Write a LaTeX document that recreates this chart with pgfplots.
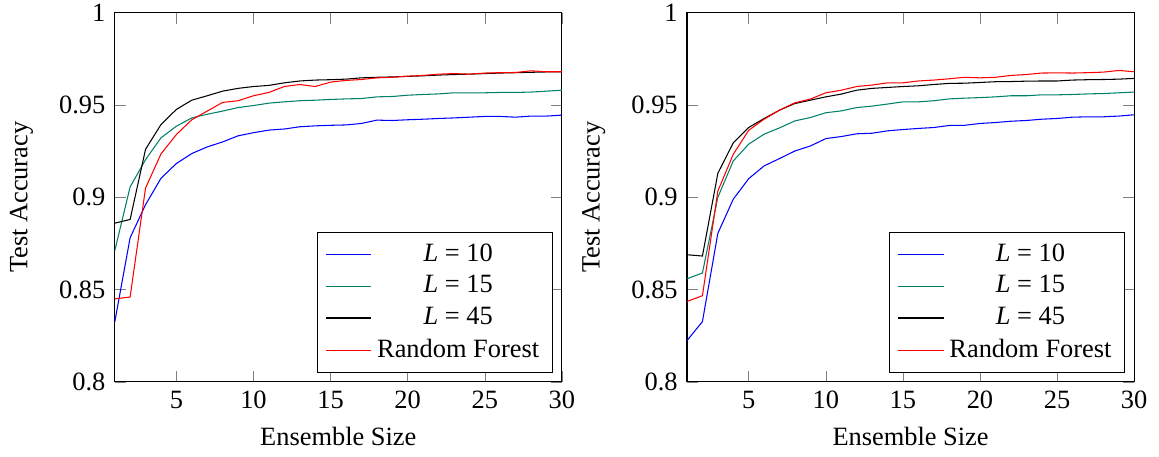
\documentclass[border=0pt]{standalone}
\usepackage{pgfplots}
\pgfplotsset{compat=1.18}
\usepackage{fontspec}
\setmainfont{Liberation Serif}
\definecolor{lgreen}{RGB}{0,128,105}
\definecolor{lblue}{RGB}{0,0,255}
\definecolor{lred}{RGB}{255,0,0}
\pgfplotsset{
  myaxis/.style={
    scale only axis,
    width=169.4pt, height=139.9pt,
    xmin=1, xmax=30, ymin=0.8, ymax=1,
    xtick={5,10,15,20,25,30},
    ytick={0.8,0.85,0.9,0.95,1},
    yticklabels={0.8,0.85,0.9,0.95,1},
    /pgf/number format/assume math mode=true,
    xlabel={Ensemble Size}, ylabel={Test Accuracy},
    ylabel shift=3pt,
    legend style={at={(0.98,0.025)}, anchor=south east, font=\normalsize},
    legend cell align=center,
    legend image code/.code={\draw[##1, line width=0.5pt] (0pt,0pt) -- (17.07pt,0pt);},
  }
}
\newcommand{\Lab}[1]{\textit{L} = #1}
\begin{document}
\begin{tikzpicture}
\begin{axis}[myaxis]
\addplot[color=lblue] coordinates {(1,0.8323)(2,0.8781)(3,0.8960)(4,0.9103)(5,0.9183)(6,0.9237)(7,0.9273)(8,0.9300)(9,0.9333)(10,0.9350)(11,0.9364)(12,0.9370)(13,0.9382)(14,0.9387)(15,0.9390)(16,0.9392)(17,0.9400)(18,0.9418)(19,0.9416)(20,0.9420)(21,0.9423)(22,0.9427)(23,0.9430)(24,0.9434)(25,0.9438)(26,0.9438)(27,0.9434)(28,0.9440)(29,0.9440)(30,0.9445)};
\addlegendentry{\Lab{10}}
\addplot[color=lgreen] coordinates {(1,0.8709)(2,0.9056)(3,0.9204)(4,0.9322)(5,0.9385)(6,0.9430)(7,0.9450)(8,0.9467)(9,0.9486)(10,0.9497)(11,0.9510)(12,0.9517)(13,0.9523)(14,0.9526)(15,0.9530)(16,0.9533)(17,0.9535)(18,0.9544)(19,0.9546)(20,0.9553)(21,0.9557)(22,0.9560)(23,0.9566)(24,0.9566)(25,0.9566)(26,0.9568)(27,0.9568)(28,0.9570)(29,0.9575)(30,0.9580)};
\addlegendentry{\Lab{15}}
\addplot[color=black] coordinates {(1,0.8860)(2,0.8880)(3,0.9260)(4,0.9394)(5,0.9476)(6,0.9526)(7,0.9550)(8,0.9575)(9,0.9590)(10,0.9600)(11,0.9606)(12,0.9620)(13,0.9630)(14,0.9635)(15,0.9637)(16,0.9640)(17,0.9647)(18,0.9650)(19,0.9652)(20,0.9655)(21,0.9658)(22,0.9662)(23,0.9665)(24,0.9667)(25,0.9670)(26,0.9673)(27,0.9675)(28,0.9677)(29,0.9679)(30,0.9680)};
\addlegendentry{\Lab{45}}
\addplot[color=lred] coordinates {(1,0.8450)(2,0.8460)(3,0.9050)(4,0.9235)(5,0.9340)(6,0.9420)(7,0.9467)(8,0.9514)(9,0.9523)(10,0.9550)(11,0.9568)(12,0.9600)(13,0.9611)(14,0.9600)(15,0.9624)(16,0.9633)(17,0.9638)(18,0.9647)(19,0.9650)(20,0.9656)(21,0.9660)(22,0.9667)(23,0.9670)(24,0.9667)(25,0.9673)(26,0.9675)(27,0.9676)(28,0.9685)(29,0.9680)(30,0.9680)};
\addlegendentry{Random Forest}
\end{axis}
\begin{axis}[myaxis, xshift=216.8pt]
\addplot[color=lblue] coordinates {(1,0.8224)(2,0.8327)(3,0.8805)(4,0.8990)(5,0.9101)(6,0.9170)(7,0.9210)(8,0.9251)(9,0.9278)(10,0.9318)(11,0.9329)(12,0.9344)(13,0.9347)(14,0.9360)(15,0.9367)(16,0.9373)(17,0.9378)(18,0.9389)(19,0.9390)(20,0.9400)(21,0.9405)(22,0.9412)(23,0.9416)(24,0.9423)(25,0.9427)(26,0.9434)(27,0.9436)(28,0.9436)(29,0.9440)(30,0.9447)};
\addlegendentry{\Lab{10}}
\addplot[color=lgreen] coordinates {(1,0.8559)(2,0.8590)(3,0.9000)(4,0.9197)(5,0.9288)(6,0.9342)(7,0.9376)(8,0.9414)(9,0.9432)(10,0.9458)(11,0.9468)(12,0.9486)(13,0.9494)(14,0.9505)(15,0.9517)(16,0.9517)(17,0.9523)(18,0.9533)(19,0.9537)(20,0.9540)(21,0.9544)(22,0.9550)(23,0.9550)(24,0.9555)(25,0.9555)(26,0.9557)(27,0.9560)(28,0.9562)(29,0.9566)(30,0.9570)};
\addlegendentry{\Lab{15}}
\addplot[color=black] coordinates {(1,0.8689)(2,0.8682)(3,0.9130)(4,0.9295)(5,0.9378)(6,0.9427)(7,0.9472)(8,0.9508)(9,0.9526)(10,0.9544)(11,0.9559)(12,0.9580)(13,0.9590)(14,0.9595)(15,0.9600)(16,0.9604)(17,0.9611)(18,0.9617)(19,0.9618)(20,0.9622)(21,0.9626)(22,0.9627)(23,0.9629)(24,0.9630)(25,0.9630)(26,0.9635)(27,0.9637)(28,0.9638)(29,0.9640)(30,0.9644)};
\addlegendentry{\Lab{45}}
\addplot[color=lred] coordinates {(1,0.8436)(2,0.8467)(3,0.9034)(4,0.9233)(5,0.9363)(6,0.9423)(7,0.9472)(8,0.9512)(9,0.9532)(10,0.9566)(11,0.9580)(12,0.9600)(13,0.9608)(14,0.9620)(15,0.9620)(16,0.9630)(17,0.9635)(18,0.9642)(19,0.9650)(20,0.9647)(21,0.9650)(22,0.9660)(23,0.9665)(24,0.9673)(25,0.9674)(26,0.9673)(27,0.9675)(28,0.9678)(29,0.9687)(30,0.9680)};
\addlegendentry{Random Forest}
\end{axis}
\pgfresetboundingbox
\path[use as bounding box] (-43.45pt,-28.4pt) rectangle (395.6pt,144.7pt);
\end{tikzpicture}
\end{document}
